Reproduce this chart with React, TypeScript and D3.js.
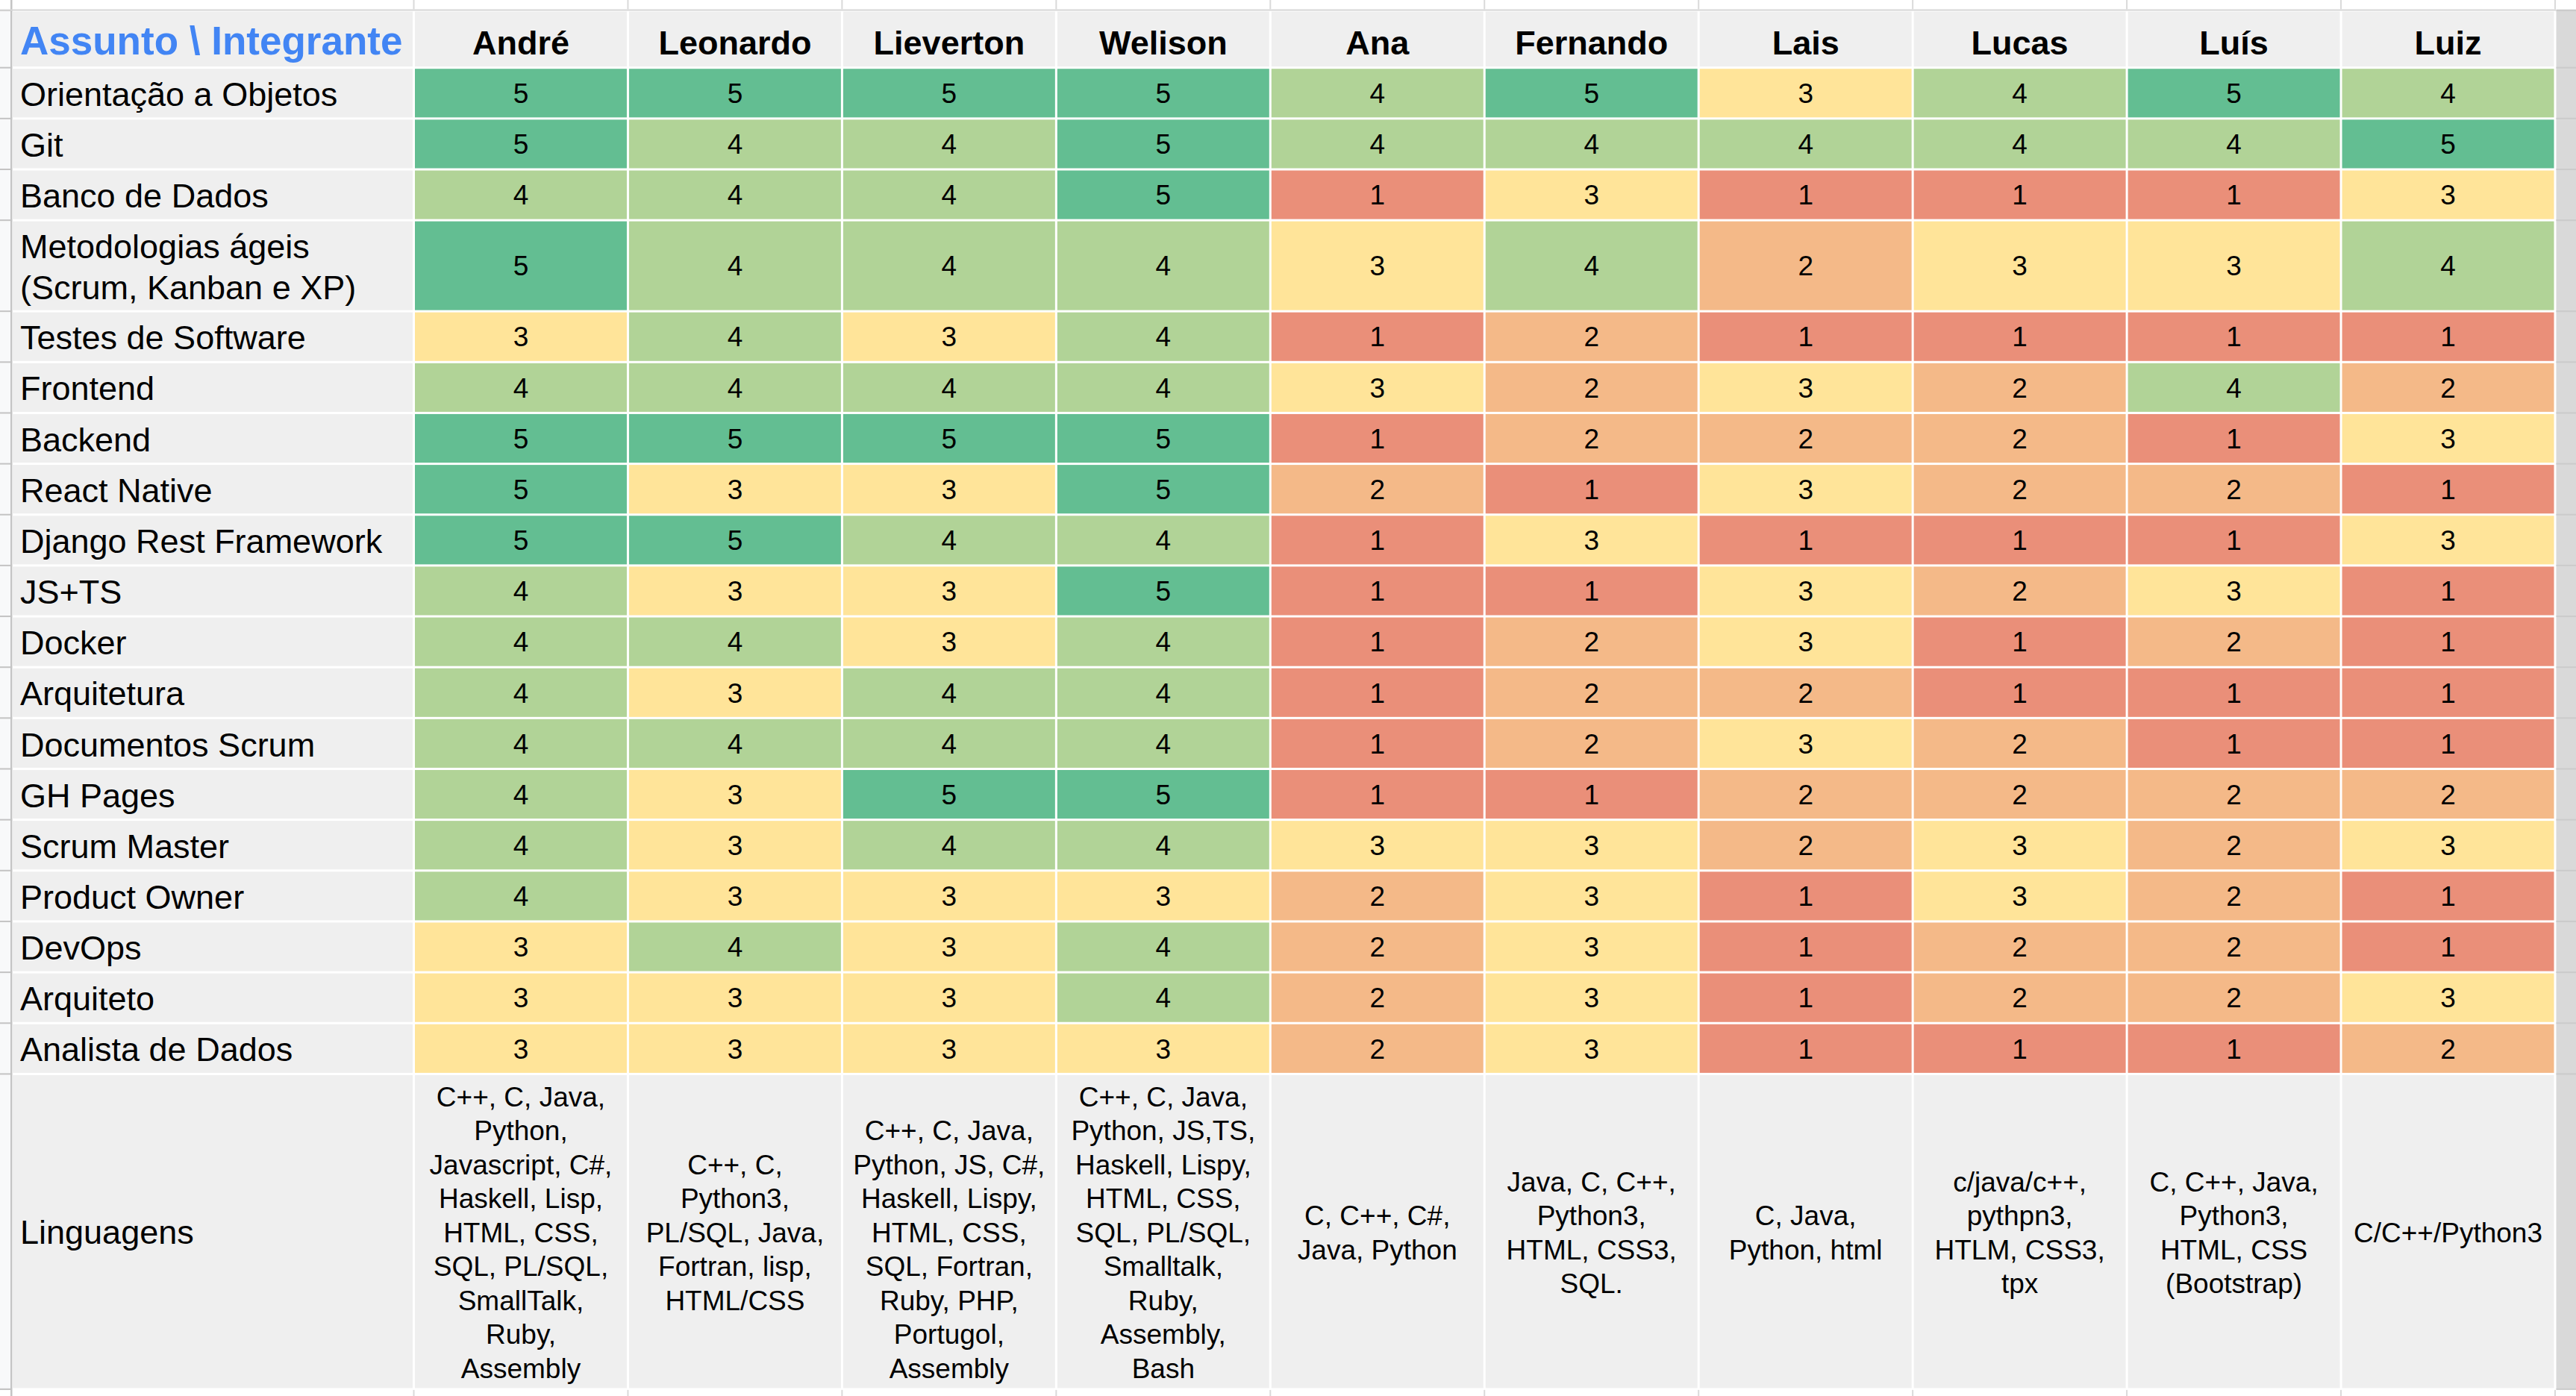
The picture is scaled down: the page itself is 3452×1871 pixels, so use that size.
import React from 'react';
import * as d3 from 'd3';

const members = ['André', 'Leonardo', 'Lieverton', 'Welison', 'Ana', 'Fernando', 'Lais', 'Lucas', 'Luís', 'Luiz'];

const cornerLabel = 'Assunto \\ Integrante';
const languagesLabel = 'Linguagens';

const topics: string[][] = [
  ['Orientação a Objetos'],
  ['Git'],
  ['Banco de Dados'],
  ['Metodologias ágeis', '(Scrum, Kanban e XP)'],
  ['Testes de Software'],
  ['Frontend'],
  ['Backend'],
  ['React Native'],
  ['Django Rest Framework'],
  ['JS+TS'],
  ['Docker'],
  ['Arquitetura'],
  ['Documentos Scrum'],
  ['GH Pages'],
  ['Scrum Master'],
  ['Product Owner'],
  ['DevOps'],
  ['Arquiteto'],
  ['Analista de Dados'],
];

// scores[topic][member]
const scores: number[][] = [
  [5, 5, 5, 5, 4, 5, 3, 4, 5, 4],
  [5, 4, 4, 5, 4, 4, 4, 4, 4, 5],
  [4, 4, 4, 5, 1, 3, 1, 1, 1, 3],
  [5, 4, 4, 4, 3, 4, 2, 3, 3, 4],
  [3, 4, 3, 4, 1, 2, 1, 1, 1, 1],
  [4, 4, 4, 4, 3, 2, 3, 2, 4, 2],
  [5, 5, 5, 5, 1, 2, 2, 2, 1, 3],
  [5, 3, 3, 5, 2, 1, 3, 2, 2, 1],
  [5, 5, 4, 4, 1, 3, 1, 1, 1, 3],
  [4, 3, 3, 5, 1, 1, 3, 2, 3, 1],
  [4, 4, 3, 4, 1, 2, 3, 1, 2, 1],
  [4, 3, 4, 4, 1, 2, 2, 1, 1, 1],
  [4, 4, 4, 4, 1, 2, 3, 2, 1, 1],
  [4, 3, 5, 5, 1, 1, 2, 2, 2, 2],
  [4, 3, 4, 4, 3, 3, 2, 3, 2, 3],
  [4, 3, 3, 3, 2, 3, 1, 3, 2, 1],
  [3, 4, 3, 4, 2, 3, 1, 2, 2, 1],
  [3, 3, 3, 4, 2, 3, 1, 2, 2, 3],
  [3, 3, 3, 3, 2, 3, 1, 1, 1, 2],
];

const languages: string[][] = [
  ['C++, C, Java,', 'Python,', 'Javascript, C#,', 'Haskell, Lisp,', 'HTML, CSS,', 'SQL, PL/SQL,', 'SmallTalk,', 'Ruby,', 'Assembly'],
  ['C++, C,', 'Python3,', 'PL/SQL, Java,', 'Fortran, lisp,', 'HTML/CSS'],
  ['', 'C++, C, Java,', 'Python, JS, C#,', 'Haskell, Lispy,', 'HTML, CSS,', 'SQL, Fortran,', 'Ruby, PHP,', 'Portugol,', 'Assembly'],
  ['C++, C, Java,', 'Python, JS,TS,', 'Haskell, Lispy,', 'HTML, CSS,', 'SQL, PL/SQL,', 'Smalltalk,', 'Ruby,', 'Assembly,', 'Bash'],
  ['C, C++, C#,', 'Java, Python'],
  ['Java, C, C++,', 'Python3,', 'HTML, CSS3,', 'SQL.'],
  ['C, Java,', 'Python, html'],
  ['c/java/c++,', 'pythpn3,', 'HTLM, CSS3,', 'tpx'],
  ['C, C++, Java,', 'Python3,', 'HTML, CSS', '(Bootstrap)'],
  ['C/C++/Python3'],
];

const levels = [1, 2, 3, 4, 5];
const levelColors = ['#ea8f79', '#f4b988', '#ffe499', '#b1d397', '#63be92'];

const W = 3452;
const H = 1871;
const FONT = 'Arial, "Liberation Sans", sans-serif';

export default function App() {
  const color = d3.scaleOrdinal<number, string>().domain(levels).range(levelColors);

  const labelLeft = 16.5;
  const labelRight = 554.5;
  const tableRight = 3424;
  const tableTop = 14;

  const x = d3.scaleBand<string>().domain(members).range([labelRight, tableRight]);

  const rowHeights = [76.7, ...topics.map((t) => (t.length > 1 ? 122 : 68.15)), 422.5];
  const rowTops: number[] = [];
  let acc = tableTop;
  rowHeights.forEach((h) => {
    rowTops.push(acc);
    acc += h;
  });
  const tableBottom = acc;
  const rowKeys = d3.range(rowHeights.length);
  const y = d3.scaleOrdinal<number, number>().domain(rowKeys).range(rowTops);
  const rh = (i: number) => rowHeights[i];

  const g = 1.5;
  const cellBg = '#efefef';
  const labelSize = 45;
  const numSize = 37;
  const capH = 0.716;

  const boundaries = [labelRight, ...members.map((m) => (x(m) as number) + x.bandwidth())];
  const rowBoundaries = [...rowTops, tableBottom];

  const langRow = rowHeights.length - 1;

  return (
    <svg
      width={W}
      height={H}
      style={{ position: 'absolute', left: 0, top: 0, display: 'block' }}
      fontFamily={FONT}
    >
      <rect x={0} y={0} width={W} height={H} fill="#ffffff" />

      {/* left gutter */}
      <rect x={0} y={tableTop} width={14} height={tableBottom - tableTop} fill="#f8f9fa" />
      {rowBoundaries.map((b, i) => (
        <rect key={'gt' + i} x={0} y={b - 1} width={14} height={2} fill="#c4c4c4" />
      ))}
      <rect x={14} y={0} width={2.5} height={H} fill="#c4c4c4" />

      {/* top strip */}
      <rect x={0} y={12.5} width={tableRight + 1} height={2} fill="#d6d6d6" />
      {boundaries.map((b, i) => (
        <rect key={'tt' + i} x={b - 1} y={0} width={2} height={12.5} fill="#dadada" />
      ))}

      {/* right strip */}
      <rect x={tableRight + 1.5} y={12.5} width={W - tableRight} height={tableBottom - 12.5} fill="#d9d9d9" />
      {rowBoundaries.map((b, i) => (
        <rect key={'rt' + i} x={tableRight + 1.5} y={b - 1} width={W - tableRight} height={2} fill="#cbcbcb" />
      ))}

      {/* bottom ticks */}
      {boundaries.map((b, i) => (
        <rect key={'bt' + i} x={b - 1} y={tableBottom + 1} width={2} height={H - tableBottom} fill="#dadada" />
      ))}
      <rect x={0} y={tableBottom - 1} width={14} height={2} fill="#c4c4c4" />

      {/* header row */}
      <rect x={labelLeft} y={y(0) + g} width={labelRight - g - labelLeft} height={rh(0) - 2 * g} fill={cellBg} />
      <text x={27} y={73} fontSize={53} fontWeight="bold" fill="#4285f4">
        {cornerLabel}
      </text>
      {members.map((m) => (
        <g key={'h' + m}>
          <rect x={(x(m) as number) + g} y={y(0) + g} width={x.bandwidth() - 2 * g} height={rh(0) - 2 * g} fill={cellBg} />
          <text x={(x(m) as number) + x.bandwidth() / 2} y={73} fontSize={45} fontWeight="bold" textAnchor="middle" fill="#000">
            {m}
          </text>
        </g>
      ))}

      {/* topic rows */}
      {topics.map((t, ti) => {
        const r = ti + 1;
        const top = y(r);
        const h = rh(r);
        const cy = top + h / 2;
        const lh = 55;
        return (
          <g key={'r' + ti}>
            <rect x={labelLeft} y={top + g} width={labelRight - g - labelLeft} height={h - 2 * g} fill={cellBg} />
            {t.map((line, li) => (
              <text
                key={li}
                x={27}
                y={cy + (labelSize * capH) / 2 + (li - (t.length - 1) / 2) * lh + 1}
                fontSize={labelSize}
                fill="#000"
              >
                {line}
              </text>
            ))}
            {members.map((m, mi) => {
              const v = scores[ti][mi];
              return (
                <g key={'c' + mi}>
                  <rect x={(x(m) as number) + g} y={top + g} width={x.bandwidth() - 2 * g} height={h - 2 * g} fill={color(v)} />
                  <text
                    x={(x(m) as number) + x.bandwidth() / 2}
                    y={cy + (numSize * capH) / 2}
                    fontSize={numSize}
                    textAnchor="middle"
                    fill="#000"
                  >
                    {v}
                  </text>
                </g>
              );
            })}
          </g>
        );
      })}

      {/* languages row */}
      {(() => {
        const top = y(langRow);
        const h = rh(langRow);
        const cy = top + h / 2;
        const lh = 45.5;
        return (
          <g>
            <rect x={labelLeft} y={top + g} width={labelRight - g - labelLeft} height={h - 2 * g} fill={cellBg} />
            <text x={27} y={cy + (labelSize * capH) / 2} fontSize={labelSize} fill="#000">
              {languagesLabel}
            </text>
            {members.map((m, mi) => {
              const lines = languages[mi];
              return (
                <g key={'l' + mi}>
                  <rect x={(x(m) as number) + g} y={top + g} width={x.bandwidth() - 2 * g} height={h - 2 * g} fill={cellBg} />
                  {lines.map((line, li) => (
                    <text
                      key={li}
                      x={(x(m) as number) + x.bandwidth() / 2}
                      y={cy + (numSize * capH) / 2 + (li - (lines.length - 1) / 2) * lh + 1}
                      fontSize={numSize}
                      textAnchor="middle"
                      fill="#000"
                    >
                      {line}
                    </text>
                  ))}
                </g>
              );
            })}
          </g>
        );
      })()}
    </svg>
  );
}
